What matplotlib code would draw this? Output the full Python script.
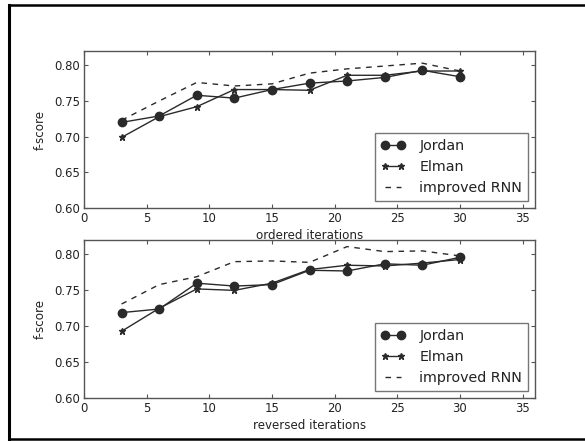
import matplotlib
matplotlib.use("Agg")
import matplotlib.pyplot as plt
from matplotlib.lines import Line2D

iterations = [3, 6, 9, 12, 15, 18, 21, 24, 27, 30]

ordered_jordan = [0.720, 0.729, 0.758, 0.754, 0.766, 0.775, 0.778, 0.783, 0.793, 0.784]
ordered_elman = [0.699, 0.728, 0.742, 0.766, 0.766, 0.765, 0.786, 0.786, 0.792, 0.792]
ordered_improved = [0.723, 0.750, 0.776, 0.771, 0.774, 0.789, 0.795, 0.799, 0.803, 0.792]

reversed_jordan = [0.719, 0.724, 0.760, 0.756, 0.758, 0.778, 0.777, 0.787, 0.785, 0.796]
reversed_elman = [0.693, 0.725, 0.752, 0.750, 0.760, 0.779, 0.785, 0.784, 0.788, 0.793]
reversed_improved = [0.731, 0.758, 0.769, 0.790, 0.791, 0.789, 0.811, 0.804, 0.805, 0.798]

line_color = "#2a2a2a"
frame_color = "#555555"
text_color = "#222222"


def draw_panel(axis, jordan, elman, improved, xlabel):
    axis.plot(iterations, jordan, "-o", color=line_color, markersize=6,
              linewidth=1.0, label="Jordan")
    axis.plot(iterations, elman, "-*", color=line_color, markersize=5,
              linewidth=1.0, label="Elman")
    axis.plot(iterations, improved, "--", color=line_color, linewidth=1.0,
              dashes=(4, 4), label="improved RNN")
    axis.set_xlim(0, 36)
    axis.set_ylim(0.6, 0.82)
    axis.set_xticks([0, 5, 10, 15, 20, 25, 30, 35])
    axis.set_yticks([0.60, 0.65, 0.70, 0.75, 0.80])
    axis.set_yticklabels(["0.60", "0.65", "0.70", "0.75", "0.80"])
    axis.tick_params(direction="in", top=True, right=True, length=3,
                     width=0.8, color=frame_color, labelsize=8.4,
                     labelcolor=text_color, pad=3)
    for spine in axis.spines.values():
        spine.set_color(frame_color)
        spine.set_linewidth(1.0)
    axis.set_xlabel(xlabel, fontsize=8.6, color=text_color, labelpad=3)
    axis.set_ylabel("f-score", fontsize=8.6, color=text_color, labelpad=5)
    legend = axis.legend(loc="lower right", numpoints=2, fontsize=10.3,
                         fancybox=False, handlelength=1.7, handletextpad=1.0,
                         labelspacing=0.5, borderaxespad=0.5, borderpad=0.4)
    legend.get_frame().set_edgecolor(frame_color)
    legend.get_frame().set_linewidth(1.0)
    for text in legend.get_texts():
        text.set_color(text_color)


figure = plt.figure(figsize=(5.85, 4.41), dpi=100)
top_axis = figure.add_axes([0.1436, 0.5283, 0.771, 0.356])
bottom_axis = figure.add_axes([0.1436, 0.0975, 0.771, 0.358])
draw_panel(top_axis, ordered_jordan, ordered_elman, ordered_improved,
           "ordered iterations")
draw_panel(bottom_axis, reversed_jordan, reversed_elman, reversed_improved,
           "reversed iterations")

# black border around the figure (left, top and bottom edges)
figure.add_artist(Line2D([9 / 585, 9 / 585], [1 - 5 / 441, 1 - 439 / 441],
                         color="black", linewidth=2.2,
                         transform=figure.transFigure))
figure.add_artist(Line2D([9 / 585, 1.0], [1 - 5 / 441, 1 - 5 / 441],
                         color="black", linewidth=1.8,
                         transform=figure.transFigure))
figure.add_artist(Line2D([9 / 585, 1.0], [1 - 439 / 441, 1 - 439 / 441],
                         color="black", linewidth=1.8,
                         transform=figure.transFigure))

figure.savefig("out.png", dpi=100)
